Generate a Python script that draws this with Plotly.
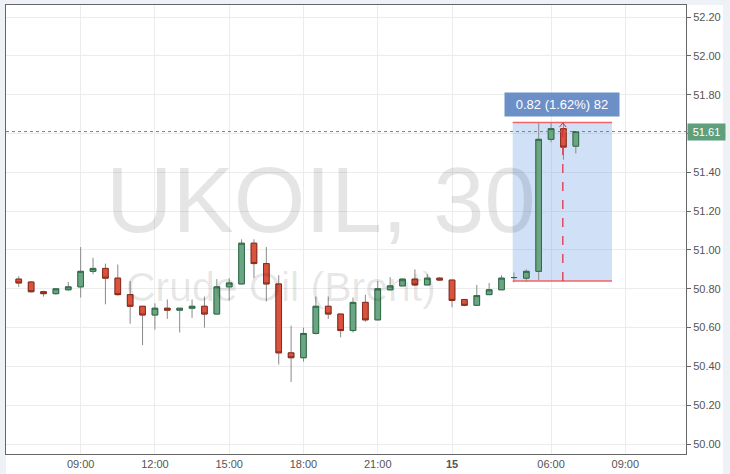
import plotly.graph_objects as go

# UKOIL 30 minute candles
opens = [50.85, 50.835, 50.785, 50.775, 50.795, 50.81, 50.89, 50.905, 50.855, 50.77,
         50.71, 50.665, 50.70, 50.69, 50.70, 50.71, 50.67, 50.81, 50.825, 51.035,
         50.93, 50.825, 50.47, 50.445, 50.57, 50.71, 50.67, 50.585, 50.73, 50.64,
         50.795, 50.815, 50.85, 50.82, 50.855, 50.845, 50.745, 50.715, 50.77, 50.795,
         50.858, 50.855, 50.89, 51.57, 51.625, 51.535]
highs = [50.865, 50.84, 50.79, 50.80, 50.835, 51.015, 50.96, 50.93, 50.925, 50.84,
         50.71, 50.725, 50.745, 50.70, 50.745, 50.76, 50.85, 50.855, 51.055, 51.055,
         51.015, 50.87, 50.61, 50.60, 50.76, 50.76, 50.67, 50.755, 50.77, 50.84,
         50.86, 50.85, 50.90, 50.875, 50.86, 50.845, 50.745, 50.82, 50.83, 50.87,
         50.884, 50.90, 51.655, 51.655, 51.655, 51.60]
lows = [50.81, 50.78, 50.76, 50.77, 50.79, 50.755, 50.875, 50.72, 50.765, 50.62,
        50.51, 50.59, 50.645, 50.575, 50.65, 50.60, 50.67, 50.74, 50.825, 50.855,
        50.735, 50.41, 50.32, 50.425, 50.565, 50.645, 50.55, 50.575, 50.63, 50.64,
        50.79, 50.815, 50.815, 50.82, 50.84, 50.705, 50.71, 50.715, 50.77, 50.795,
        50.833, 50.835, 50.845, 51.555, 51.465, 51.497]
closes = [50.83, 50.785, 50.775, 50.80, 50.81, 50.89, 50.905, 50.855, 50.77, 50.71,
          50.665, 50.70, 50.69, 50.70, 50.71, 50.67, 50.81, 50.83, 51.035, 50.93,
          50.825, 50.47, 50.445, 50.57, 50.71, 50.67, 50.585, 50.73, 50.64, 50.80,
          50.815, 50.85, 50.82, 50.855, 50.845, 50.74, 50.715, 50.765, 50.795, 50.855,
          50.858, 50.89, 51.57, 51.625, 51.53, 51.61]

tick_idx = [5, 11, 17, 23, 29, 35, 43, 49]
tick_text = ["09:00", "12:00", "15:00", "18:00", "21:00", "<b>15</b>", "06:00", "09:00"]
price_ticks = [50.0, 50.2, 50.4, 50.6, 50.8, 51.0, 51.2, 51.4, 51.6, 51.8, 52.0, 52.2]

last_price = 51.61
measure_low, measure_high = 50.84, 51.657
measure_text = "0.82 (1.62%) 82"

FONT = "Liberation Sans, Arial, sans-serif"
GREEN = "#6aa683"
GREEN_LINE = "#2e6b47"
RED = "#d9533d"
RED_LINE = "#8a2a1c"

x = list(range(len(opens)))
body_hi = [max(o, c) for o, c in zip(opens, closes)]
body_lo = [min(o, c) for o, c in zip(opens, closes)]

fig = go.Figure()

# wicks (gray)
fig.add_trace(go.Candlestick(
    x=x, open=opens, high=highs, low=lows, close=closes,
    increasing=dict(fillcolor=GREEN, line=dict(color="#8a8a8a", width=1)),
    decreasing=dict(fillcolor=RED, line=dict(color="#8a8a8a", width=1)),
    hoverinfo="skip", showlegend=False,
))
# bodies with darker outline
fig.add_trace(go.Candlestick(
    x=x, open=opens, high=body_hi, low=body_lo, close=closes,
    increasing=dict(fillcolor=GREEN, line=dict(color=GREEN_LINE, width=1)),
    decreasing=dict(fillcolor=RED, line=dict(color=RED_LINE, width=1)),
    hoverinfo="skip", showlegend=False,
))

# page background: white panel with grey edges
fig.add_shape(type="rect", xref="paper", yref="paper", x0=0, x1=1.0544, y0=-0.06, y1=1,
              fillcolor="white", line_width=0, layer="below")

# measuring tool
fig.add_shape(type="rect", x0=39.9, x1=47.92, y0=measure_low, y1=measure_high,
              fillcolor="rgba(110,160,230,0.32)", line_width=0, layer="between")
for yy in (measure_low, measure_high):
    fig.add_shape(type="line", x0=39.9, x1=47.92, y0=yy, y1=yy,
                  line=dict(color="#f26363", width=1.5))
fig.add_shape(type="line", x0=43.95, x1=43.95, y0=measure_low, y1=measure_high - 0.005,
              line=dict(color="#e0283a", width=1.2, dash="dash"))
fig.add_shape(type="path", path="M 43.68 51.633 L 43.95 51.655 L 44.22 51.633",
              line=dict(color="#e0283a", width=1))

# last price line
fig.add_shape(type="line", xref="paper", x0=0, x1=1, y0=last_price, y1=last_price,
              line=dict(color="#4f9a72", width=1, dash="dot"))

# watermark (paper coords of the plot area)
fig.add_annotation(text="UKOIL, 30", x=0.463, y=0.565, xref="paper", yref="paper",
                   showarrow=False, font=dict(family=FONT, size=92, color="rgba(0,0,0,0.1)"))
fig.add_annotation(text="Crude Oil (Brent)", x=0.405, y=0.372, xref="paper", yref="paper",
                   showarrow=False, font=dict(family=FONT, size=41, color="rgba(0,0,0,0.1)"))

fig.add_annotation(text=measure_text, x=43.92, y=51.749, showarrow=False,
                   bgcolor="#6b8fc6", borderpad=4, width=106,
                   font=dict(family=FONT, size=13, color="white"))
fig.add_annotation(text=str(last_price), xref="paper", x=1, xanchor="left", y=last_price,
                   showarrow=False, bgcolor="#5f9f7c", borderpad=2, width=33, xshift=1,
                   font=dict(family=FONT, size=11, color="white"))

fig.update_layout(
    width=730, height=474,
    margin=dict(l=6, r=44, t=4, b=19),
    paper_bgcolor="#eef2f6",
    plot_bgcolor="white",
    font=dict(family=FONT, size=11, color="#555555"),
    boxgap=0.35,
    showlegend=False,
    hovermode=False,
)
fig.update_xaxes(
    range=[-1.03, 53.9], rangeslider_visible=False,
    tickvals=tick_idx, ticktext=tick_text, tickfont=dict(size=11, color="#555555"),
    showgrid=True, gridcolor="#ececec", gridwidth=1, zeroline=False,
    showline=True, linecolor="#666666", linewidth=1, mirror=True, ticks="",
)
fig.update_yaxes(
    range=[49.949, 52.262], side="right",
    tickvals=price_ticks, tickformat=".2f", tickfont=dict(size=11, color="#555555"),
    ticks="outside", ticklen=4, tickcolor="#666666",
    showgrid=True, gridcolor="#ececec", gridwidth=1, zeroline=False,
    showline=True, linecolor="#666666", linewidth=1, mirror=True,
)

fig.write_html("out.html", config={"displayModeBar": False},
               post_script="document.body.style.margin='0';")
